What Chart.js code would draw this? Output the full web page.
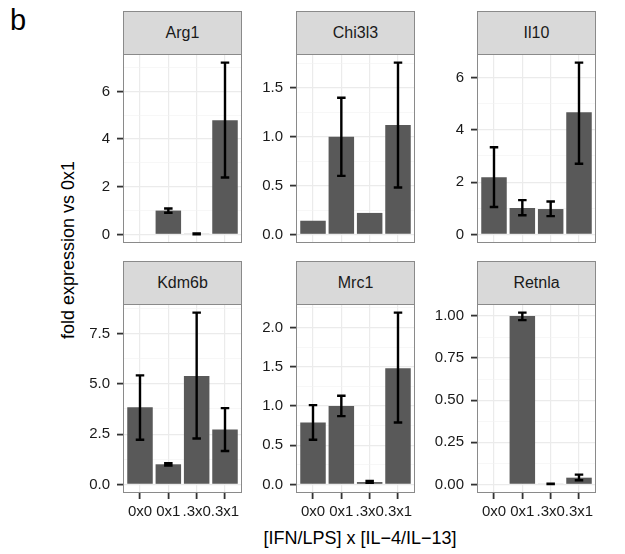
<!DOCTYPE html>
<html>
<head>
<meta charset="utf-8">
<script src="https://cdn.jsdelivr.net/npm/chart.js@4/dist/chart.umd.min.js"></script>
<style>
  html, body { margin: 0; padding: 0; background: #fff; }
  #fig { position: relative; width: 625px; height: 554px; background: #fff; overflow: hidden;
         font-family: "Liberation Sans", Arial, Helvetica, sans-serif; color: #1a1a1a; }
  .strip { position: absolute; box-sizing: border-box; background: #d9d9d9; border: 1px solid #8a8a8a;
           display: flex; align-items: center; justify-content: center; font-size: 16px; color: #1a1a1a; }
  canvas { position: absolute; }
  .title { position: absolute; white-space: nowrap; font-size: 18px; color: #000; }
</style>
</head>
<body>
<div id="fig">
  <div class="title" style="left:10px; top:4px; font-size:29px;">b</div>
  <div class="title" id="ytitle" style="left:68px; top:250px; transform: translate(-50%,-50%) rotate(-90deg);">fold expression vs 0x1</div>
  <div class="title" id="xtitle" style="left:360px; top:538px; transform: translate(-50%,-50%);">[IFN/LPS] x [IL−4/IL−13]</div>
</div>
<script>
// Treatment groups along the x axis
const categories = ['0x0', '0x1', '.3x0', '.3x1'];

// Panels, in facet order
const genes = ['Arg1', 'Chi3l3', 'Il10', 'Kdm6b', 'Mrc1', 'Retnla'];

// Mean fold expression and error bar limits per gene (null = not shown)
const arg1Mean   = [null, 1.00, 0.02, 4.79];
const arg1Low    = [null, 0.91, 0.00, 2.39];
const arg1High   = [null, 1.09, 0.04, 7.21];

const chi3l3Mean = [0.14, 1.00, 0.22, 1.12];
const chi3l3Low  = [null, 0.60, null, 0.48];
const chi3l3High = [null, 1.40, null, 1.76];

const il10Mean   = [2.19, 1.01, 0.97, 4.67];
const il10Low    = [1.05, 0.73, 0.70, 2.70];
const il10High   = [3.33, 1.31, 1.26, 6.57];

const kdm6bMean  = [3.83, 1.00, 5.39, 2.73];
const kdm6bLow   = [2.22, 0.94, 2.28, 1.66];
const kdm6bHigh  = [5.42, 1.06, 8.54, 3.79];

const mrc1Mean   = [0.79, 1.00, 0.03, 1.48];
const mrc1Low    = [0.57, 0.87, 0.02, 0.79];
const mrc1High   = [1.01, 1.13, 0.045, 2.19];

const retnlaMean = [null, 1.00, 0.003, 0.04];
const retnlaLow  = [null, 0.975, 0.002, 0.025];
const retnlaHigh = [null, 1.02, 0.004, 0.058];

// Y tick labels per panel
const arg1Ticks   = ['0', '2', '4', '6'];
const chi3l3Ticks = ['0.0', '0.5', '1.0', '1.5'];
const il10Ticks   = ['0', '2', '4', '6'];
const kdm6bTicks  = ['0.0', '2.5', '5.0', '7.5'];
const mrc1Ticks   = ['0.0', '0.5', '1.0', '1.5', '2.0'];
const retnlaTicks = ['0.00', '0.25', '0.50', '0.75', '1.00'];

const panelData = [
  { mean: arg1Mean,   low: arg1Low,   high: arg1High,   ticks: arg1Ticks },
  { mean: chi3l3Mean, low: chi3l3Low, high: chi3l3High, ticks: chi3l3Ticks },
  { mean: il10Mean,   low: il10Low,   high: il10High,   ticks: il10Ticks },
  { mean: kdm6bMean,  low: kdm6bLow,  high: kdm6bHigh,  ticks: kdm6bTicks },
  { mean: mrc1Mean,   low: mrc1Low,   high: mrc1High,   ticks: mrc1Ticks },
  { mean: retnlaMean, low: retnlaLow, high: retnlaHigh, ticks: retnlaTicks }
];

// Facet grid geometry
const colLeft = [123, 296, 477];
const rowTop = [54, 304];
const panelW = 119, panelH = 189, stripH = 43;
const axisW = 70, xAxisH = 40;
const FONT = '"Liberation Sans", Arial, Helvetica, sans-serif';

const fig = document.getElementById('fig');

// Error bars drawn through the chart's own scales
const errorBars = {
  id: 'errorBars',
  afterDatasetsDraw(chart, args, opts) {
    const { ctx, scales: { x, y } } = chart;
    ctx.save();
    ctx.strokeStyle = '#000';
    ctx.lineWidth = 2.4;
    ctx.lineCap = 'butt';
    opts.low.forEach((lo, i) => {
      const hi = opts.high[i];
      if (lo == null || hi == null) return;
      const px = x.getPixelForValue(i);
      const half = (x.getPixelForValue(i + 0.15) - x.getPixelForValue(i - 0.15)) / 2;
      const yl = y.getPixelForValue(lo), yh = y.getPixelForValue(hi);
      ctx.beginPath();
      ctx.moveTo(px, yl); ctx.lineTo(px, yh);
      ctx.moveTo(px - half, yl); ctx.lineTo(px + half, yl);
      ctx.moveTo(px - half, yh); ctx.lineTo(px + half, yh);
      ctx.stroke();
    });
    ctx.restore();
  }
};

// Grey panel frame around the plotting area
const panelFrame = {
  id: 'panelFrame',
  afterDraw(chart) {
    const { ctx, chartArea: a } = chart;
    ctx.save();
    ctx.strokeStyle = '#8a8a8a';
    ctx.lineWidth = 1;
    ctx.strokeRect(a.left + 0.5, a.top + 0.5, a.width - 1, a.height - 1);
    ctx.restore();
  }
};

genes.forEach((gene, p) => {
  const d = panelData[p];
  const col = p % 3, row = Math.floor(p / 3);
  const bottomRow = row === 1;
  const left = colLeft[col], top = rowTop[row];

  // strip label
  const strip = document.createElement('div');
  strip.className = 'strip';
  strip.textContent = gene;
  Object.assign(strip.style, { left: left + 'px', top: (top - stripH) + 'px', width: panelW + 'px', height: (stripH + 1) + 'px' });
  fig.appendChild(strip);

  // y range: bars from zero up to the error bars, padded by 5%
  const vals = [0].concat(d.mean, d.low, d.high).filter(v => v != null);
  const lo = Math.min(...vals), hi = Math.max(...vals);
  const pad = (hi - lo) * 0.05;
  const yMin = lo - pad, yMax = hi + pad;

  const major = d.ticks.map(t => ({ value: parseFloat(t), lbl: t }));
  const step = major[1].value - major[0].value;
  const minor = [];
  for (let k = -1; k < major.length; k++) {
    const v = major[0].value + (k + 0.5) * step;
    if (v > yMin && v < yMax) minor.push({ value: v, minor: true, lbl: '' });
  }

  const canvas = document.createElement('canvas');
  const cw = axisW + panelW + 2;
  const ch = panelH + (bottomRow ? xAxisH : 2);
  canvas.width = cw; canvas.height = ch;
  Object.assign(canvas.style, { left: (left - axisW) + 'px', top: top + 'px', width: cw + 'px', height: ch + 'px' });
  fig.appendChild(canvas);

  new Chart(canvas, {
    type: 'bar',
    data: {
      datasets: [{
        data: categories.map((c, i) => ({ x: i, y: d.mean[i] })),
        backgroundColor: '#595959',
        borderWidth: 0,
        barPercentage: 0.9,
        categoryPercentage: 1.0
      }]
    },
    options: {
      responsive: false,
      animation: false,
      devicePixelRatio: 1,
      layout: { padding: { left: 0, right: 2, top: 0, bottom: bottomRow ? 0 : 2 } },
      plugins: {
        legend: { display: false },
        tooltip: { enabled: false },
        errorBars: { low: d.low, high: d.high }
      },
      scales: {
        x: {
          type: 'linear',
          min: -0.6, max: 3.6,
          offset: false,
          afterBuildTicks(scale) { scale.ticks = categories.map((c, i) => ({ value: i })); },
          afterFit(scale) {
            scale.height = bottomRow ? xAxisH : 0;
            scale.paddingLeft = 0; scale.paddingRight = 0;
          },
          border: { display: false },
          grid: {
            offset: false,
            color: '#ebebeb',
            lineWidth: 1.2,
            drawTicks: bottomRow,
            tickLength: 6,
            tickColor: '#333',
            tickWidth: 1.8
          },
          ticks: {
            display: bottomRow,
            autoSkip: false,
            maxRotation: 0, minRotation: 0,
            padding: 4,
            color: '#1a1a1a',
            font: { family: FONT, size: 15 },
            callback: (v) => categories[Math.round(v)]
          }
        },
        y: {
          type: 'linear',
          min: yMin, max: yMax,
          afterBuildTicks(scale) { scale.ticks = major.concat(minor).sort((a, b) => a.value - b.value); },
          afterFit(scale) {
            scale.width = axisW;
            scale.paddingTop = 0; scale.paddingBottom = 0;
          },
          border: { display: false },
          grid: {
            color: (c) => (c.tick && c.tick.minor) ? '#f2f2f2' : '#ebebeb',
            lineWidth: (c) => (c.tick && c.tick.minor) ? 0.6 : 1.2,
            tickLength: 6,
            tickColor: (c) => (c.tick && c.tick.minor) ? 'rgba(0,0,0,0)' : '#333',
            tickWidth: 1.8
          },
          ticks: {
            autoSkip: false,
            padding: 7,
            color: '#1a1a1a',
            font: { family: FONT, size: 15 },
            callback: (v, i, ticks) => ticks[i].lbl
          }
        }
      }
    },
    plugins: [errorBars, panelFrame]
  });
});
</script>
</body>
</html>
